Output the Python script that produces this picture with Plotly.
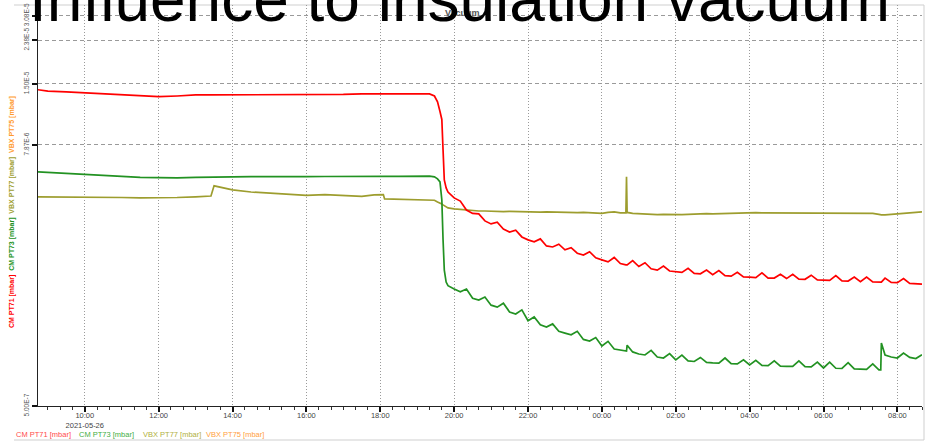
import math
import plotly.graph_objects as go

# ---------------- data ----------------
TIME = [
    # 2021-05-26, before the event
    "2021-05-26 08:44", "2021-05-26 09:00", "2021-05-26 09:30", "2021-05-26 10:00", "2021-05-26 10:30",
    "2021-05-26 11:00", "2021-05-26 11:30", "2021-05-26 12:00", "2021-05-26 12:30", "2021-05-26 13:00",
    "2021-05-26 13:25", "2021-05-26 13:30", "2021-05-26 14:00", "2021-05-26 14:30", "2021-05-26 15:00",
    "2021-05-26 15:30", "2021-05-26 16:00", "2021-05-26 16:30", "2021-05-26 17:00", "2021-05-26 17:30",
    "2021-05-26 17:50", "2021-05-26 18:05", "2021-05-26 18:07", "2021-05-26 18:30", "2021-05-26 19:00",
    "2021-05-26 19:20", "2021-05-26 19:28", "2021-05-26 19:33", "2021-05-26 19:37", "2021-05-26 19:40",
    "2021-05-26 19:42", "2021-05-26 19:44", "2021-05-26 19:47",
    # after the event
    "2021-05-26 19:50",
    "2021-05-26 20:00", "2021-05-26 20:10", "2021-05-26 20:20", "2021-05-26 20:30", "2021-05-26 20:40", "2021-05-26 20:50",
    "2021-05-26 21:00", "2021-05-26 21:10", "2021-05-26 21:20", "2021-05-26 21:30", "2021-05-26 21:40", "2021-05-26 21:50",
    "2021-05-26 22:00", "2021-05-26 22:10", "2021-05-26 22:20", "2021-05-26 22:30", "2021-05-26 22:40", "2021-05-26 22:50",
    "2021-05-26 23:00", "2021-05-26 23:10", "2021-05-26 23:20", "2021-05-26 23:30", "2021-05-26 23:40", "2021-05-26 23:50",
    "2021-05-27 00:00", "2021-05-27 00:10", "2021-05-27 00:20", "2021-05-27 00:30", "2021-05-27 00:39", "2021-05-27 00:40",
    "2021-05-27 00:41", "2021-05-27 00:50",
    "2021-05-27 01:00", "2021-05-27 01:10", "2021-05-27 01:20", "2021-05-27 01:30", "2021-05-27 01:40", "2021-05-27 01:50",
    "2021-05-27 02:00", "2021-05-27 02:10", "2021-05-27 02:20", "2021-05-27 02:30", "2021-05-27 02:40", "2021-05-27 02:50",
    "2021-05-27 03:00", "2021-05-27 03:10", "2021-05-27 03:20", "2021-05-27 03:30", "2021-05-27 03:40", "2021-05-27 03:50",
    "2021-05-27 04:00", "2021-05-27 04:10", "2021-05-27 04:20", "2021-05-27 04:30", "2021-05-27 04:40", "2021-05-27 04:50",
    "2021-05-27 05:00", "2021-05-27 05:10", "2021-05-27 05:20", "2021-05-27 05:30", "2021-05-27 05:40", "2021-05-27 05:50",
    "2021-05-27 06:00", "2021-05-27 06:10", "2021-05-27 06:20", "2021-05-27 06:30", "2021-05-27 06:40", "2021-05-27 06:50",
    "2021-05-27 07:00", "2021-05-27 07:10", "2021-05-27 07:20", "2021-05-27 07:30", "2021-05-27 07:33", "2021-05-27 07:34",
    "2021-05-27 07:40", "2021-05-27 07:50",
    "2021-05-27 08:00", "2021-05-27 08:10", "2021-05-27 08:20", "2021-05-27 08:30", "2021-05-27 08:40",
]

CM_PT71 = [  # mbar
    1.41e-5, 1.39e-5, 1.38e-5, 1.365e-5, 1.35e-5,
    1.335e-5, 1.32e-5, 1.31e-5, 1.32e-5, 1.335e-5,
    1.335e-5, 1.335e-5, 1.34e-5, 1.335e-5, 1.34e-5,
    1.335e-5, 1.34e-5, 1.342e-5, 1.342e-5, 1.35e-5,
    1.35e-5, 1.35e-5, 1.35e-5, 1.35e-5, 1.355e-5,
    1.35e-5, 1.32e-5, 1.24e-5, 1.12e-5, 1.03e-5,
    7.47e-6, 5.44e-6, 5.00e-6,
    4.79e-6,
    4.50e-6, 4.35e-6, 3.96e-6, 3.82e-6, 3.80e-6, 3.53e-6,
    3.42e-6, 3.48e-6, 3.24e-6, 3.14e-6, 3.20e-6, 2.98e-6,
    2.89e-6, 2.83e-6, 2.92e-6, 2.71e-6, 2.68e-6, 2.76e-6,
    2.60e-6, 2.66e-6, 2.51e-6, 2.46e-6, 2.55e-6, 2.39e-6,
    2.34e-6, 2.29e-6, 2.40e-6, 2.25e-6, 2.22e-6, 2.22e-6,
    2.22e-6, 2.32e-6,
    2.18e-6, 2.27e-6, 2.13e-6, 2.10e-6, 2.19e-6, 2.08e-6,
    2.06e-6, 2.05e-6, 2.14e-6, 2.03e-6, 2.02e-6, 2.10e-6,
    2.00e-6, 2.09e-6, 1.98e-6, 1.97e-6, 2.05e-6, 1.955e-6,
    1.95e-6, 1.94e-6, 2.04e-6, 1.93e-6, 1.93e-6, 2.01e-6,
    1.92e-6, 2.01e-6, 1.91e-6, 1.905e-6, 1.99e-6, 1.895e-6,
    1.89e-6, 1.885e-6, 1.98e-6, 1.875e-6, 1.87e-6, 1.95e-6,
    1.86e-6, 1.95e-6, 1.855e-6, 1.85e-6, 1.85e-6, 1.85e-6,
    1.93e-6, 1.845e-6,
    1.84e-6, 1.92e-6, 1.825e-6, 1.82e-6, 1.81e-6,
]

CM_PT73 = [  # mbar
    5.92e-6, 5.89e-6, 5.86e-6, 5.77e-6, 5.71e-6,
    5.65e-6, 5.59e-6, 5.56e-6, 5.56e-6, 5.59e-6,
    5.62e-6, 5.62e-6, 5.62e-6, 5.63e-6, 5.62e-6,
    5.64e-6, 5.63e-6, 5.64e-6, 5.63e-6, 5.64e-6,
    5.65e-6, 5.65e-6, 5.65e-6, 5.65e-6, 5.66e-6,
    5.66e-6, 5.62e-6, 5.50e-6, 5.33e-6, 4.41e-6,
    2.89e-6, 2.10e-6, 1.85e-6,
    1.78e-6,
    1.72e-6, 1.67e-6, 1.72e-6, 1.56e-6, 1.53e-6, 1.58e-6,
    1.45e-6, 1.42e-6, 1.48e-6, 1.35e-6, 1.32e-6, 1.38e-6,
    1.23e-6, 1.28e-6, 1.18e-6, 1.15e-6, 1.19e-6, 1.10e-6,
    1.08e-6, 1.06e-6, 1.10e-6, 1.01e-6, 9.93e-7, 1.03e-6,
    9.42e-7, 9.90e-7, 9.13e-7, 9.03e-7, 8.94e-7, 8.94e-7,
    9.50e-7, 8.85e-7,
    8.66e-7, 8.57e-7, 9.00e-7, 8.39e-7, 8.30e-7, 8.70e-7,
    8.13e-7, 8.55e-7, 8.05e-7, 8.00e-7, 8.35e-7, 7.92e-7,
    7.88e-7, 7.86e-7, 8.30e-7, 7.82e-7, 7.80e-7, 8.15e-7,
    7.71e-7, 8.10e-7, 7.67e-7, 7.65e-7, 8.05e-7, 7.61e-7,
    7.60e-7, 7.59e-7, 8.05e-7, 7.57e-7, 7.56e-7, 7.95e-7,
    7.47e-7, 7.95e-7, 7.45e-7, 7.43e-7, 7.90e-7, 7.40e-7,
    7.38e-7, 7.36e-7, 7.80e-7, 7.32e-7, 7.32e-7, 9.72e-7,
    8.57e-7, 8.39e-7,
    8.30e-7, 8.75e-7, 8.35e-7, 8.25e-7, 8.60e-7,
]

VBX_PT77 = [  # mbar
    4.55e-6, 4.55e-6, 4.52e-6, 4.55e-6, 4.52e-6,
    4.52e-6, 4.50e-6, 4.50e-6, 4.52e-6, 4.55e-6,
    4.59e-6, 5.11e-6, 4.90e-6, 4.79e-6, 4.74e-6,
    4.69e-6, 4.62e-6, 4.66e-6, 4.60e-6, 4.57e-6,
    4.65e-6, 4.66e-6, 4.45e-6, 4.43e-6, 4.41e-6,
    4.41e-6, 4.39e-6, 4.31e-6, 4.27e-6, 4.22e-6,
    4.18e-6, 4.14e-6, 4.09e-6,
    4.05e-6,
    4.01e-6, 3.98e-6, 3.96e-6, 3.94e-6, 3.92e-6, 3.92e-6,
    3.90e-6, 3.91e-6, 3.89e-6, 3.90e-6, 3.89e-6, 3.88e-6,
    3.88e-6, 3.89e-6, 3.87e-6, 3.88e-6, 3.87e-6, 3.86e-6,
    3.86e-6, 3.86e-6, 3.85e-6, 3.86e-6, 3.85e-6, 3.84e-6,
    3.82e-6, 3.86e-6, 3.88e-6, 3.84e-6, 3.84e-6, 5.62e-6,
    3.86e-6, 3.82e-6,
    3.80e-6, 3.78e-6, 3.78e-6, 3.77e-6, 3.78e-6, 3.77e-6,
    3.76e-6, 3.77e-6, 3.78e-6, 3.80e-6, 3.80e-6, 3.81e-6,
    3.80e-6, 3.81e-6, 3.82e-6, 3.82e-6, 3.83e-6, 3.84e-6,
    3.84e-6, 3.85e-6, 3.84e-6, 3.84e-6, 3.85e-6, 3.84e-6,
    3.84e-6, 3.84e-6, 3.83e-6, 3.84e-6, 3.84e-6, 3.83e-6,
    3.84e-6, 3.83e-6, 3.84e-6, 3.84e-6, 3.83e-6, 3.84e-6,
    3.84e-6, 3.83e-6, 3.82e-6, 3.78e-6, 3.76e-6, 3.76e-6,
    3.76e-6, 3.78e-6,
    3.80e-6, 3.82e-6, 3.86e-6, 3.88e-6, 3.88e-6,
]

SERIES_NAMES = ["CM PT71 [mbar]", "CM PT73 [mbar]", "VBX PT77 [mbar]", "VBX PT75 [mbar]"]
SERIES_COLORS = ["#ff0000", "#229222", "#9d9d2e", "#ff9a2e"]
LEGEND_COLORS = ["#ff4a4a", "#3fae3f", "#b0b040", "#ffa040"]

X_TICK_VALS = ["2021-05-26 10:00", "2021-05-26 12:00", "2021-05-26 14:00", "2021-05-26 16:00",
               "2021-05-26 18:00", "2021-05-26 20:00", "2021-05-26 22:00", "2021-05-27 00:00",
               "2021-05-27 02:00", "2021-05-27 04:00", "2021-05-27 06:00", "2021-05-27 08:00"]
X_TICK_TEXT = ["10:00<br>2021-05-26", "12:00", "14:00", "16:00", "18:00", "20:00", "22:00",
               "00:00", "02:00", "04:00", "06:00", "08:00"]
Y_TICK_VALS = [5.0e-7, 7.87e-6, 1.5e-5, 2.38e-5, 3.08e-5]
Y_TICK_TEXT = ["5.00E-7", "7.87E-6", "1.50E-5", "2.38E-5", "3.08E-5"]
X_RANGE = ["2021-05-26 08:44", "2021-05-27 08:40"]
Y_RANGE = [5.0e-7, 3.45e-5]

CHART_TITLE = "Vacuum"
SLIDE_TITLE = "Influence to insulation vacuum"

assert len(TIME) == len(CM_PT71) == len(CM_PT73) == len(VBX_PT77)

# ---------------- figure ----------------
W, H = 926, 442
ML, MR, MT, MB = 38, 4, 5, 36
PW, PH = W - ML - MR, H - MT - MB


def px_x(px):
    return (px - ML) / PW


def px_y(py):
    return (H - MB - py) / PH


fig = go.Figure()
for name, vals, col in [(SERIES_NAMES[2], VBX_PT77, SERIES_COLORS[2]),
                        (SERIES_NAMES[1], CM_PT73, SERIES_COLORS[1]),
                        (SERIES_NAMES[0], CM_PT71, SERIES_COLORS[0])]:
    fig.add_trace(go.Scatter(x=TIME, y=vals, name=name, mode="lines",
                             line=dict(color=col, width=1.7), showlegend=False))

FONT = "Liberation Sans, Arial, sans-serif"

fig.update_layout(
    width=W, height=H,
    margin=dict(l=ML, r=MR, t=MT, b=MB, pad=0, autoexpand=False),
    paper_bgcolor="white", plot_bgcolor="white",
    font=dict(family=FONT, size=8, color="#444"),
    showlegend=False,
    xaxis=dict(
        type="date", range=X_RANGE, automargin=False,
        tickmode="array", tickvals=X_TICK_VALS, ticktext=X_TICK_TEXT,
        tickfont=dict(size=7.5, color="#444"),
        ticks="outside", ticklen=5, tickwidth=2, tickcolor="#111",
        ticklabelstandoff=-3,
        showline=True, linecolor="#222", linewidth=1,
        showgrid=True, gridcolor="#9a9a9a", griddash="1px,2px", gridwidth=1,
        zeroline=False,
        minor=dict(tickmode="linear", tick0="2021-05-26 10:00", dtick=20 * 60 * 1000,
                   ticks="outside", ticklen=3, tickwidth=1, tickcolor="#333", showgrid=False),
    ),
    yaxis=dict(
        type="log", range=[math.log10(Y_RANGE[0]), math.log10(Y_RANGE[1])], automargin=False,
        tickmode="array", tickvals=Y_TICK_VALS, ticktext=Y_TICK_TEXT,
        tickangle=-90, tickfont=dict(size=6.5, color="#555"),
        ticks="outside", ticklen=5, tickwidth=2, tickcolor="#111",
        showline=True, linecolor="#222", linewidth=1,
        showgrid=True, gridcolor="#9a9a9a", griddash="4px,3px", gridwidth=1,
        zeroline=False,
    ),
)

# outer frame (top, right, bottom)
frame = dict(type="line", xref="paper", yref="paper", line=dict(color="#cfcfcf", width=1), layer="below")
fig.add_shape(**frame, x0=px_x(14), x1=px_x(924), y0=px_y(5), y1=px_y(5))
fig.add_shape(**frame, x0=px_x(924), x1=px_x(924), y0=px_y(5), y1=px_y(440))
fig.add_shape(**frame, x0=px_x(14), x1=px_x(924), y0=px_y(440), y1=px_y(440))

# legend row (coloured text only)
legend_px = [14, 77, 141, 204]
for name, col, lx in zip(SERIES_NAMES, LEGEND_COLORS, legend_px):
    fig.add_annotation(text=name, xref="paper", yref="paper", x=px_x(lx), y=px_y(434),
                       xanchor="left", yanchor="middle", showarrow=False,
                       font=dict(family=FONT, size=7.5, color=col))

# multi-coloured y-axis title
ytitle = "  ".join(f'<span style="color:{c}">{n}</span>' for n, c in zip(SERIES_NAMES, SERIES_COLORS))
fig.add_annotation(text="<b>" + ytitle + "</b>", xref="paper", yref="paper",
                   x=px_x(12), y=px_y(212), textangle=-90, showarrow=False,
                   xanchor="center", yanchor="middle",
                   font=dict(family=FONT, size=7))

# small chart title
fig.add_annotation(text="<b>" + CHART_TITLE + "</b>", xref="paper", yref="paper",
                   x=px_x(462), y=px_y(13), showarrow=False, xanchor="center", yanchor="middle",
                   font=dict(family=FONT, size=9, color="#555"))

# slide title overlay (cut at the top)
fig.add_annotation(text=SLIDE_TITLE, xref="paper", yref="paper",
                   x=px_x(459), y=px_y(37), showarrow=False, xanchor="center", yanchor="bottom",
                   font=dict(family=FONT, size=64, color="black"))

fig.write_html("out.html", config={"displayModeBar": False},
               post_script="document.body.style.margin='0';document.body.style.overflow='hidden';")
